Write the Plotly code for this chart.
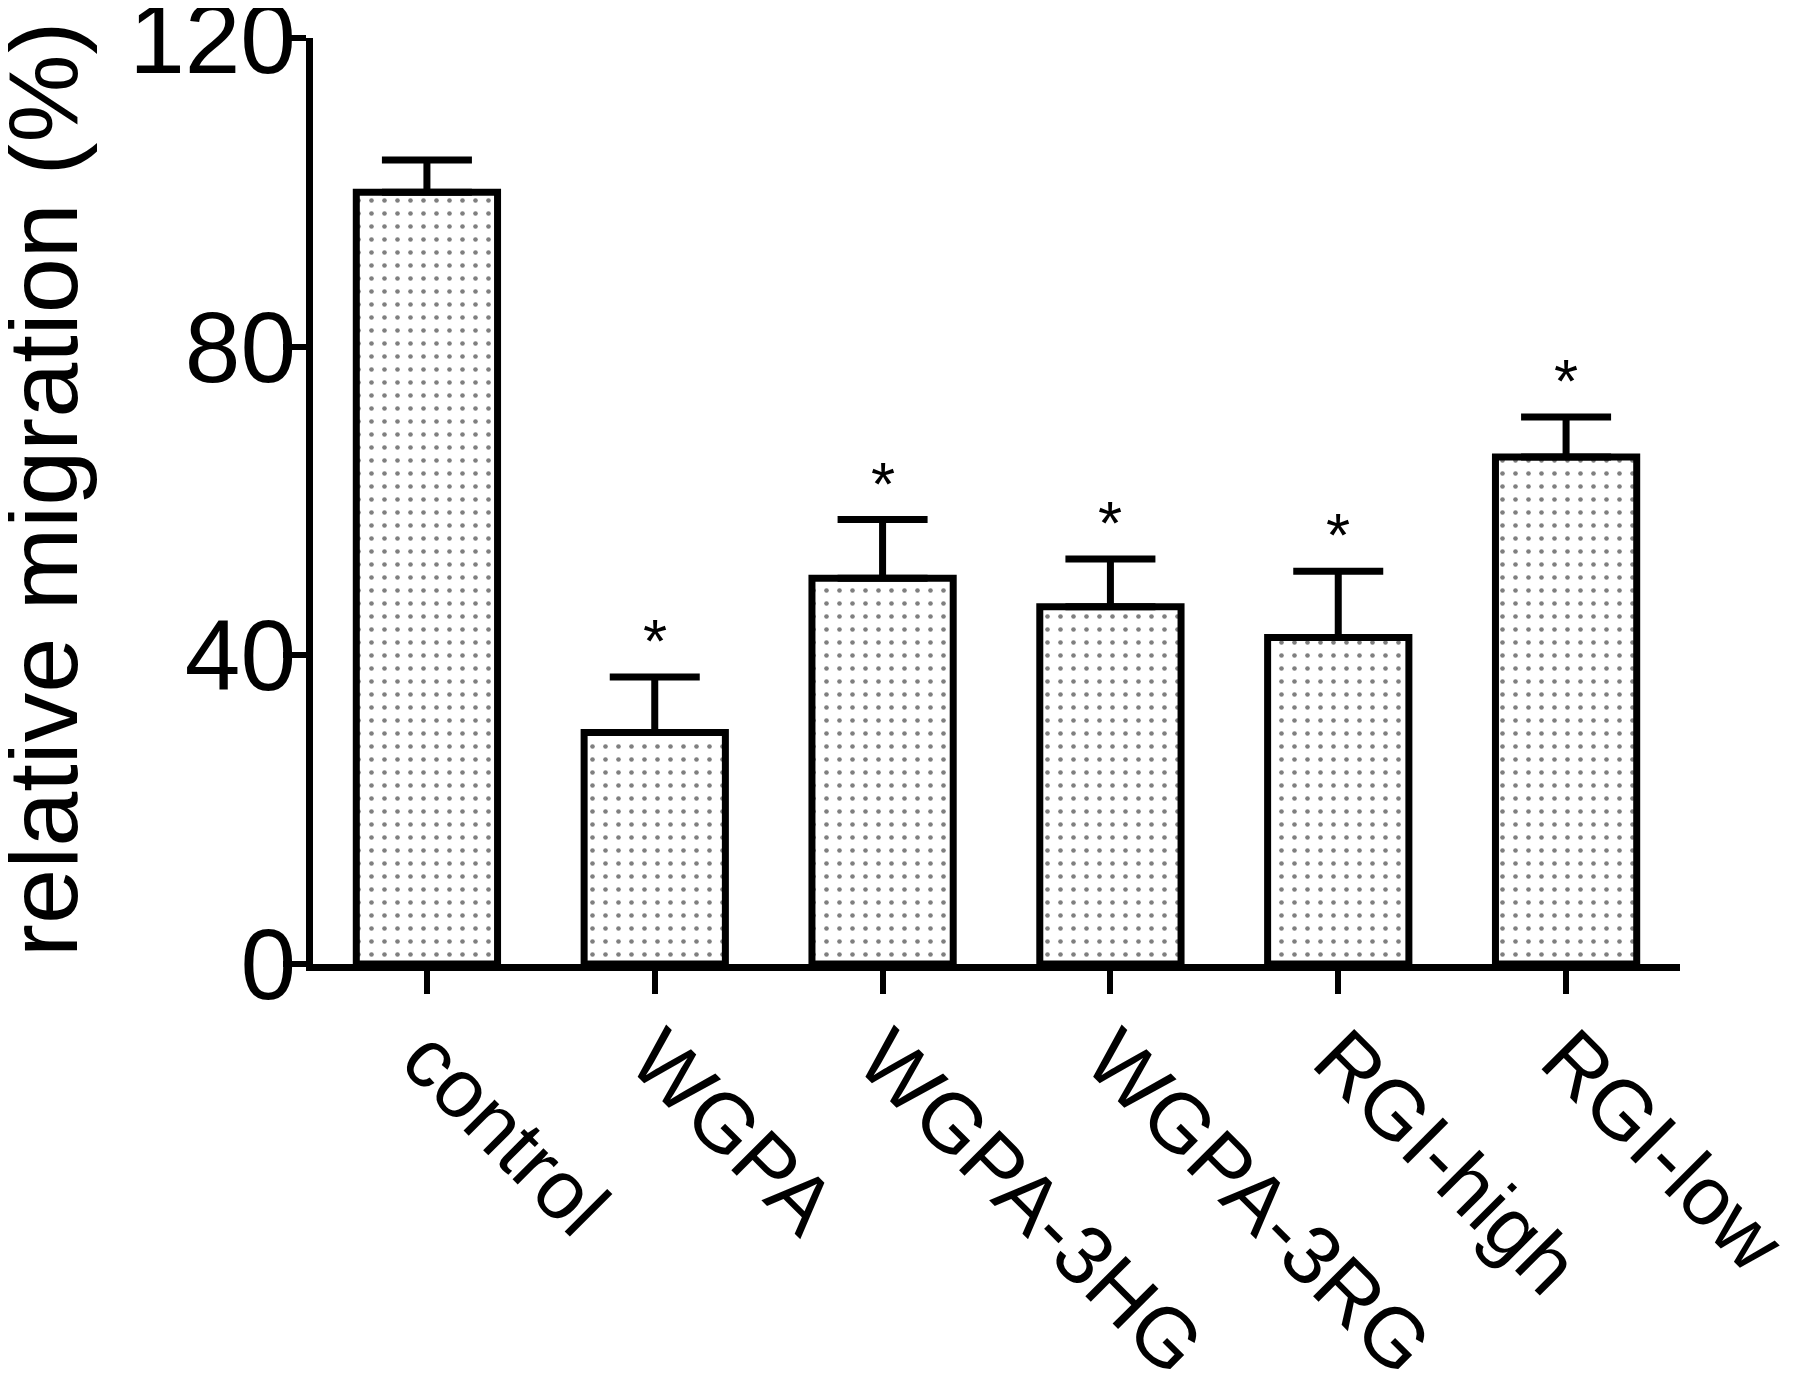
import plotly.graph_objects as go

categories = ["control", "WGPA", "WGPA-3HG", "WGPA-3RG", "RGI-high", "RGI-low"]
values = [100, 30, 50, 46.3, 42.3, 65.7]
sem = [4.2, 7.2, 7.6, 6.2, 8.6, 5.2]
stars = ["", "*", "*", "*", "*", "*"]
y_ticks = [0, 40, 80, 120]

FONT = "Liberation Sans, Arial, sans-serif"
LW = 7

fig = go.Figure()
fig.add_trace(go.Bar(
    x=categories, y=values, width=0.62,
    marker=dict(
        color="white",
        line=dict(color="black", width=LW),
        pattern=dict(shape=".", fgcolor="black", bgcolor="white", size=13, solidity=0.1),
    ),
    error_y=dict(type="data", array=sem, arrayminus=[0] * len(sem), symmetric=False,
                 color="black", thickness=LW, width=45),
    showlegend=False,
))

for c, v, s, st in zip(categories, values, sem, stars):
    if st:
        fig.add_annotation(x=c, y=v + s, text=st, showarrow=False, yanchor="bottom",
                           yshift=0, font=dict(family=FONT, size=62, color="black"))

fig.add_annotation(text="relative migration (%)", xref="paper", yref="paper", x=0, y=0.512,
                   xanchor="center", yanchor="middle", xshift=-270, textangle=-90, showarrow=False,
                   font=dict(family=FONT, size=99, color="black"))

fig.update_layout(
    width=1800, height=1393,
    margin=dict(l=305, r=128, t=30, b=437),
    plot_bgcolor="white", paper_bgcolor="white",
    font=dict(family=FONT, color="black"),
)
fig.update_xaxes(range=[-0.5, 5.5], showline=True, linecolor="black", linewidth=LW,
                 ticks="outside", ticklen=23, tickwidth=6, tickcolor="black",
                 tickangle=45, tickfont=dict(family=FONT, size=83, color="black"),
                 ticklabelstandoff=-17, automargin=False, ticklabeloverflow="allow",
                 showgrid=False, zeroline=False)
fig.update_yaxes(range=[0, 120], tickvals=y_ticks, showline=True, linecolor="black", linewidth=LW,
                 ticks="outside", ticklen=23, tickwidth=6, tickcolor="black",
                 tickfont=dict(family=FONT, size=100, color="black"),
                 ticklabelstandoff=-33, automargin=False, ticklabeloverflow="allow",
                 showgrid=False, zeroline=False)

fig.write_html("out.html")
